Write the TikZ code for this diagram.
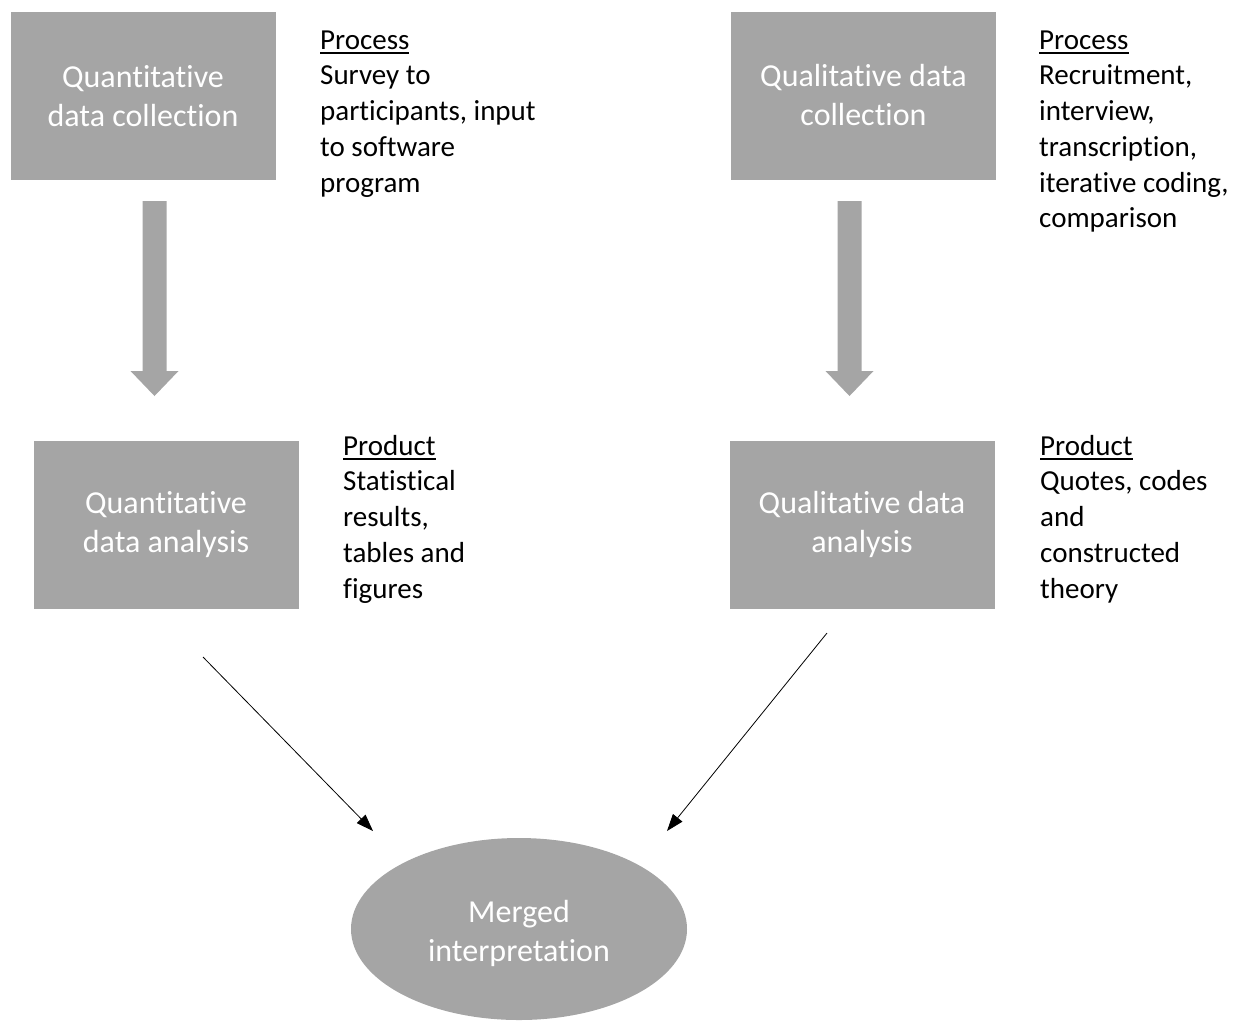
\documentclass[tikz,border=0pt]{standalone}
\usepackage{fontspec}
\setmainfont{Carlito}[Ligatures=NoCommon]
\usetikzlibrary{shapes.geometric,arrows.meta}
\definecolor{boxgray}{HTML}{A5A5A5}
% underlined heading with a fixed rule position
\newcommand\headword[1]{\setbox0\hbox{#1}\rlap{\rule[-4.6pt]{\wd0}{1.8pt}}\box0}
\tikzset{
  box/.style={fill=boxgray, text=white, minimum width=265pt, minimum height=168pt,
    inner sep=0pt, align=center, font=\fontsize{32}{39}\selectfont},
  merged/.style={ellipse, fill=boxgray, minimum width=336pt, minimum height=182pt, inner sep=0pt},
  mergedtext/.style={text=white, inner sep=0pt, align=center, font=\fontsize{32}{39}\selectfont},
  note/.style={anchor=base west, inner sep=0pt, font=\fontsize{29}{35.75}\selectfont},
  link/.style={line width=0.8pt, -{Triangle[length=17pt,width=12pt]}},
  downarrow/.pic={\fill[boxgray] (-12,0) -- (12,0) -- (12,170) -- (24,170) -- (0,195)
    -- (-24,170) -- (-12,170) -- cycle;}
}
\begin{document}
\begin{tikzpicture}[x=1pt,y=-1pt]
\useasboundingbox (0,0) rectangle (1246,1021);

% data collection and analysis boxes
\node[box] (qncoll) at (143,96) {Quantitative\\data collection};
\node[box] (qlcoll) at (863.5,95.5) {Qualitative data\\collection};
\node[box] (qnan) at (166,524.5) {Quantitative\\data analysis};
\node[box] (qlan) at (862,524.5) {Qualitative data\\analysis};
\node[merged] (merge) at (519,929) {};
\node[mergedtext] (mergelabel) at ([yshift=-4pt]merge.center) {Merged\\interpretation};

% block arrows from collection to analysis
\pic (qnflow) at (154.5,201) {downarrow};
\pic (qlflow) at (849.5,201) {downarrow};

% side notes
\node[note] (qnproc) at (320,49) {\begin{tabular}[t]{@{}l@{}}\headword{Process}\\Survey to\\participants, input\\to software\\program\end{tabular}};
\node[note] (qlproc) at (1039,49) {\begin{tabular}[t]{@{}l@{}}\headword{Process}\\Recruitment,\\interview,\\transcription,\\iterative coding,\\comparison\end{tabular}};
\node[note] (qnprod) at (343,455) {\begin{tabular}[t]{@{}l@{}}\headword{Product}\\Statistical\\results,\\tables and\\figures\end{tabular}};
\node[note] (qlprod) at (1040,455) {\begin{tabular}[t]{@{}l@{}}\headword{Product}\\Quotes, codes\\and\\constructed\\theory\end{tabular}};

% arrows into the merged interpretation
\coordinate (qnfrom) at (203,657);
\coordinate (qnto) at (373,831);
\coordinate (qlfrom) at (827,633);
\coordinate (qlto) at (667,831);
\draw[link] (qnfrom) -- (qnto);
\draw[link] (qlfrom) -- (qlto);
\end{tikzpicture}
\end{document}
